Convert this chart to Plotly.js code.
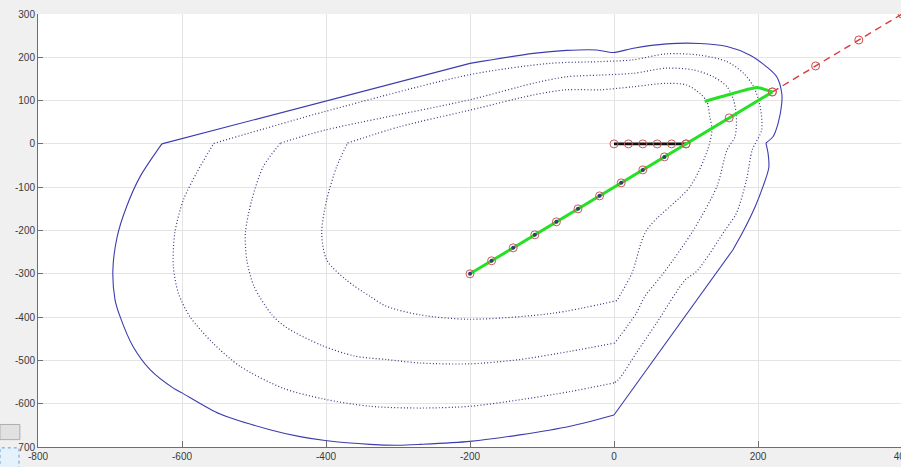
<!DOCTYPE html>
<html>
<head>
<meta charset="utf-8">
<script src="https://cdn.plot.ly/plotly-3.0.1.min.js"></script>
<style>
html,body{margin:0;padding:0;overflow:hidden;background:#f0f0f0;}
#chart{width:920px;height:467px;}
</style>
</head>
<body>
<div id="chart"></div>
<script>
// Outer boundary (solid)
const outerX = [-628,-400,-200,-112,-66,-24,-1,27,73,119,157,189,212,226,233,233,228,221,211,214,215,207,196,180,165,136,0,-61,-131,-200,-269,-300,-339,-401,-436,-478,-547,-600,-612,-644,-668,-686,-693,-696,-690,-677,-658,-628];
const outerY = [0,99,186,209,216,217,211,221,231,232,225,205,178,155,117,94,48,17,2,-22,-55,-98,-145,-200,-245,-312,-626,-652,-672,-687,-694,-696,-694,-685,-676,-660,-624,-575,-564,-522,-468,-399,-360,-291,-214,-145,-75,0];

// Dotted contour 1 (outer)
const d1X = [-556,-401,-200,-89,-19,26,73,119,157,180,194,203,205,192,184,170,154,115,99,59,31,6,0,-61,-131,-200,-269,-339,-404,-460,-519,-557,-589,-605,-612,-610,-598,-580,-556];
const d1Y = [1,75,160,186,190,194,208,205,190,163,132,86,32,-14,-83,-160,-200,-294,-314,-414,-483,-545,-552,-572,-591,-606,-610,-606,-589,-564,-514,-460,-399,-345,-283,-206,-129,-68,1];

// Dotted contour 2 (middle)
const d2X = [-463,-401,-200,-112,-66,-19,27,73,110,138,157,166,170,168,157,143,110,69,43,31,1,-61,-131,-200,-269,-316,-360,-405,-455,-475,-500,-510,-512,-503,-487,-463];
const d2Y = [2,32,102,140,155,159,163,175,171,155,132,102,63,17,-14,-98,-200,-298,-352,-391,-460,-479,-498,-508,-506,-498,-490,-466,-424,-395,-329,-268,-206,-129,-52,2];

// Dotted contour 3 (inner)
const d3X = [-370,-297,-200,-112,-66,-19,27,73,101,119,129,133,136,130,106,45,25,4,-84,-200,-269,-316,-339,-372,-399,-406,-399,-385,-370];
const d3Y = [2,40,78,113,125,125,132,140,136,117,98,63,32,-14,-98,-200,-298,-362,-391,-405,-395,-375,-352,-314,-268,-206,-129,-52,2];

// Green path with markers
const pathX = [-200,-170,-140,-110,-80,-50,-20,10,40,70,100,160,220];
const pathY = [-300,-270,-240,-210,-180,-150,-120,-90,-60,-30,0,60,120];
// Green hook
const hookX = [126,166,199,220];
const hookY = [98,117,130,120];
// Black segment
const blackX = [0,20,40,60,80,100];
const blackY = [0,0,0,0,0,0];
// Red dashed extension
const redX = [220,280,340,400];
const redY = [120,180,240,300];

const blue = '#3c3cb0';
const dotBlue = '#36367e';
const dotDash = '1px,2.2px';

function seg(xs, ys, a, b, shape, line) {
  return {x: xs.slice(a, b + 1), y: ys.slice(a, b + 1), mode: 'lines',
          line: Object.assign({shape: shape, smoothing: 0.8}, line), hoverinfo: 'skip'};
}
const solidLine = {color: blue, width: 1.1};
const dotLine = {color: dotBlue, width: 1.2, dash: dotDash};

const traces = [
  seg(outerX, outerY, 0, 2, 'linear', solidLine),
  seg(outerX, outerY, 2, 18, 'spline', solidLine),
  seg(outerX, outerY, 18, 24, 'spline', solidLine),
  seg(outerX, outerY, 24, 26, 'linear', solidLine),
  seg(outerX, outerY, 26, outerX.length - 1, 'spline', solidLine),
  seg(d1X, d1Y, 0, 22, 'spline', dotLine),
  seg(d1X, d1Y, 22, d1X.length - 1, 'spline', dotLine),
  seg(d2X, d2Y, 0, 20, 'spline', dotLine),
  seg(d2X, d2Y, 20, d2X.length - 1, 'spline', dotLine),
  seg(d3X, d3Y, 0, 17, 'spline', dotLine),
  seg(d3X, d3Y, 17, d3X.length - 1, 'spline', dotLine),
  {x: redX, y: redY, mode: 'lines+markers', line: {color: '#d93a3a', width: 1.4, dash: '7px,5px'},
   marker: {symbol: 'circle-open', size: 8, color: '#d04a4a', line: {width: 1}}},
  {x: blackX, y: blackY, mode: 'lines', line: {color: '#111111', width: 2.6}},
  {x: pathX, y: pathY, mode: 'lines', line: {color: '#25e025', width: 3}},
  {x: hookX, y: hookY, mode: 'lines', line: {color: '#25e025', width: 3, shape: 'spline', smoothing: 0.5}},
  {x: pathX.slice(0,10), y: pathY.slice(0,10), mode: 'markers', marker: {symbol: 'circle', size: 4, color: '#3a3a70'}},
  {x: pathX, y: pathY, mode: 'markers', marker: {symbol: 'circle-open', size: 8, color: '#c85a5a', line: {width: 1}}},
  {x: blackX, y: blackY, mode: 'markers', marker: {symbol: 'circle-open', size: 8, color: '#c85a5a', line: {width: 1}}}
];

const layout = {
  width: 920, height: 467,
  margin: {l: 38, r: 18, t: 14, b: 20, pad: 0},
  paper_bgcolor: '#f0f0f0',
  plot_bgcolor: '#ffffff',
  showlegend: false,
  font: {family: 'Liberation Sans, Arial, sans-serif', size: 10, color: '#3a3a3a'},
  xaxis: {
    range: [-800, 400], tickvals: [-800,-600,-400,-200,0,200,400],
    ticktext: ['-800','-600','-400','-200','0','200','400'],
    showgrid: true, gridcolor: '#e4e4e4', gridwidth: 1,
    zeroline: false, showline: true, linecolor: '#6e6e6e', linewidth: 1,
    ticks: 'inside', ticklen: 6, tickcolor: '#6e6e6e', mirror: false, fixedrange: true
  },
  yaxis: {
    range: [-700, 300], tickvals: [-700,-600,-500,-400,-300,-200,-100,0,100,200,300],
    ticktext: ['-700','-600','-500','-400','-300','-200','-100','0','100','200','300'],
    showgrid: true, gridcolor: '#e4e4e4', gridwidth: 1,
    zeroline: false, showline: true, linecolor: '#6e6e6e', linewidth: 1,
    ticks: 'inside', ticklen: 5, tickcolor: '#6e6e6e', mirror: false, fixedrange: true
  },
  shapes: [
    {type: 'rect', xref: 'paper', yref: 'paper', x0: -0.044, x1: -0.021, y0: 0.017, y1: 0.052,
     fillcolor: '#e1e1e1', line: {color: '#adadad', width: 1}, layer: 'above'},
    {type: 'rect', xref: 'paper', yref: 'paper', x0: -0.044, x1: -0.022, y0: -0.05, y1: -0.002,
     fillcolor: '#e5f1fb', line: {color: '#6a9ad0', width: 1, dash: 'dot'}, layer: 'above'}
  ]
};

Plotly.newPlot('chart', traces, layout, {staticPlot: true, displayModeBar: false});
</script>
</body>
</html>
